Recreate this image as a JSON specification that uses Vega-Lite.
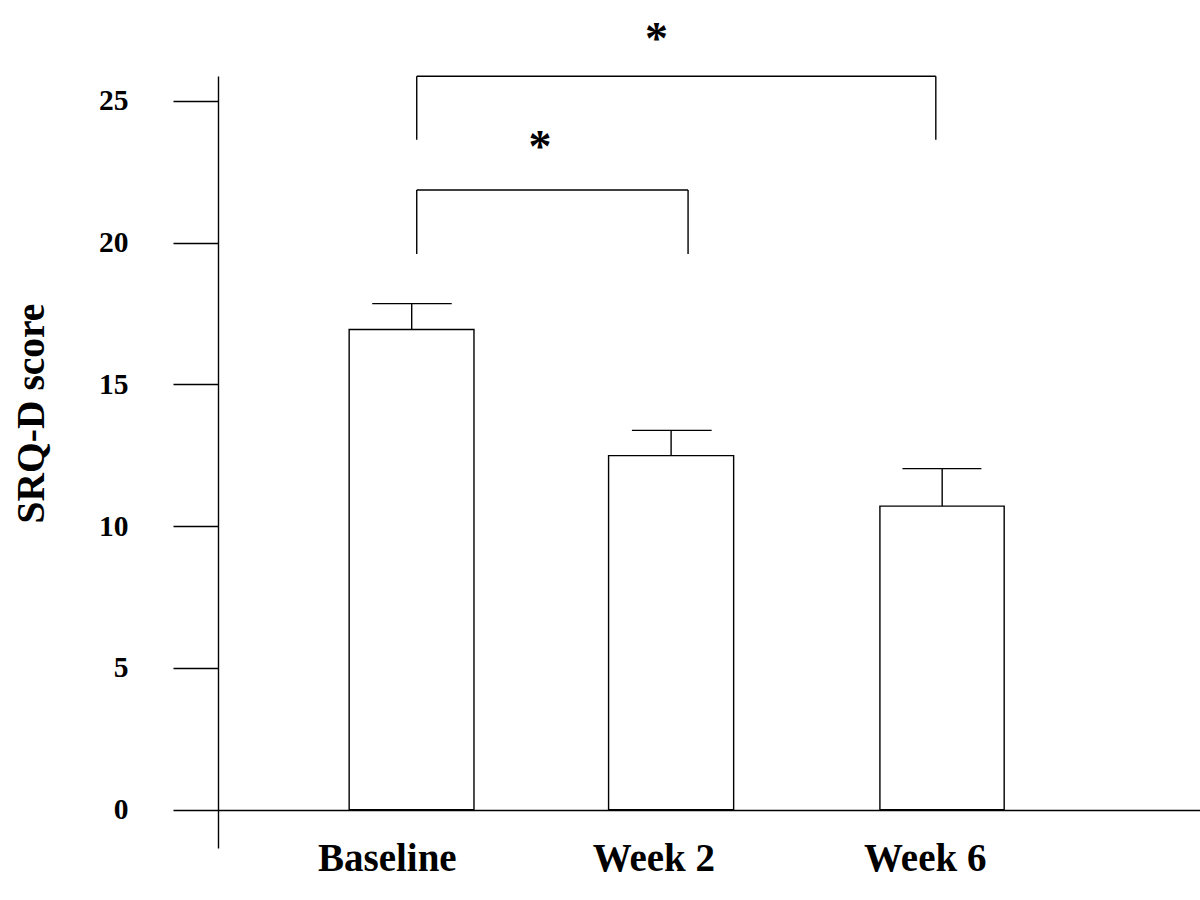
{
  "$schema": "https://vega.github.io/schema/vega-lite/v6.json",
  "width": 982,
  "height": 772,
  "autosize": {"type": "none"},
  "padding": {"left": 218, "top": 76, "right": 0, "bottom": 52},
  "background": "white",
  "config": {"view": {"stroke": null}, "font": "Liberation Serif"},
  "datasets": {
    "bars": [
      {"time": "Baseline", "pos": 1.0, "left": 0.764, "right": 1.235, "mean": 16.94, "upper": 17.85, "capL": 0.851, "capR": 1.151},
      {"time": "Week 2", "pos": 1.979, "left": 1.743, "right": 2.215, "mean": 12.49, "upper": 13.38, "capL": 1.831, "capR": 2.132},
      {"time": "Week 6", "pos": 3.002, "left": 2.767, "right": 3.236, "mean": 10.71, "upper": 12.03, "capL": 2.852, "capR": 3.15}
    ],
    "brackets": [
      {"x": 1.019, "x2": 2.978, "y": 25.87, "y2": 25.87},
      {"x": 1.019, "x2": 1.019, "y": 23.63, "y2": 25.87},
      {"x": 2.978, "x2": 2.978, "y": 23.63, "y2": 25.87},
      {"x": 1.019, "x2": 2.043, "y": 21.86, "y2": 21.86},
      {"x": 1.019, "x2": 1.019, "y": 19.6, "y2": 21.86},
      {"x": 2.043, "x2": 2.043, "y": 19.6, "y2": 21.86}
    ],
    "stars": [
      {"x": 1.924, "y": 26.66, "label": "*"},
      {"x": 1.484, "y": 22.83, "label": "*"}
    ]
  },
  "layer": [
    {
      "data": {"name": "bars"},
      "mark": {"type": "bar", "fill": "white", "stroke": "black", "strokeWidth": 1.4},
      "encoding": {
        "x": {
          "field": "left", "type": "quantitative",
          "scale": {"domain": [0.269, 3.975], "nice": false, "zero": false},
          "axis": {
            "values": [0.906, 1.912, 2.936],
            "labelExpr": "datum.value < 1.5 ? 'Baseline' : datum.value < 2.5 ? 'Week 2' : 'Week 6'",
            "offset": -38,
            "domainColor": "black", "domainWidth": 1.4,
            "ticks": true, "tickSize": 0, "tickWidth": 0,
            "grid": false, "title": null,
            "labelFont": "Liberation Serif", "labelFontWeight": "bold", "labelFontSize": 39,
            "labelColor": "black", "labelBaseline": "alphabetic", "labelPadding": 60,
            "labelFlush": false, "labelOverlap": false
          }
        },
        "x2": {"field": "right"},
        "y": {
          "field": "mean", "type": "quantitative",
          "scale": {"domain": [-1.35, 25.88], "nice": false, "zero": false},
          "axis": {
            "values": [0, 5, 10, 15, 20, 25],
            "tickSize": 45, "tickColor": "black", "tickWidth": 1.4,
            "domainColor": "black", "domainWidth": 1.4,
            "grid": false,
            "labelFont": "Liberation Serif", "labelFontWeight": "bold", "labelFontSize": 29.5,
            "labelColor": "black", "labelPadding": 45, "labelFlush": false, "labelOverlap": false,
            "title": "SRQ-D score",
            "titleFont": "Liberation Serif", "titleFontWeight": "bold", "titleFontSize": 39.5,
            "titleColor": "black", "titleAngle": -90, "titleX": -175, "titleY": 337,
            "titleAlign": "center", "titleBaseline": "alphabetic"
          }
        },
        "y2": {"datum": 0}
      }
    },
    {
      "data": {"name": "bars"},
      "mark": {"type": "rule", "color": "black", "strokeWidth": 1.4},
      "encoding": {
        "x": {"field": "pos", "type": "quantitative"},
        "y": {"field": "mean", "type": "quantitative"},
        "y2": {"field": "upper"}
      }
    },
    {
      "data": {"name": "bars"},
      "mark": {"type": "rule", "color": "black", "strokeWidth": 1.4},
      "encoding": {
        "x": {"field": "capL", "type": "quantitative"},
        "x2": {"field": "capR"},
        "y": {"field": "upper", "type": "quantitative"}
      }
    },
    {
      "data": {"name": "brackets"},
      "mark": {"type": "rule", "color": "black", "strokeWidth": 1.4},
      "encoding": {
        "x": {"field": "x", "type": "quantitative"},
        "x2": {"field": "x2"},
        "y": {"field": "y", "type": "quantitative"},
        "y2": {"field": "y2"}
      }
    },
    {
      "data": {"name": "stars"},
      "mark": {"type": "text", "font": "Liberation Serif", "fontWeight": "bold", "fontSize": 46, "color": "black", "align": "center", "baseline": "alphabetic"},
      "encoding": {
        "x": {"field": "x", "type": "quantitative"},
        "y": {"field": "y", "type": "quantitative"},
        "text": {"field": "label"}
      }
    }
  ]
}
